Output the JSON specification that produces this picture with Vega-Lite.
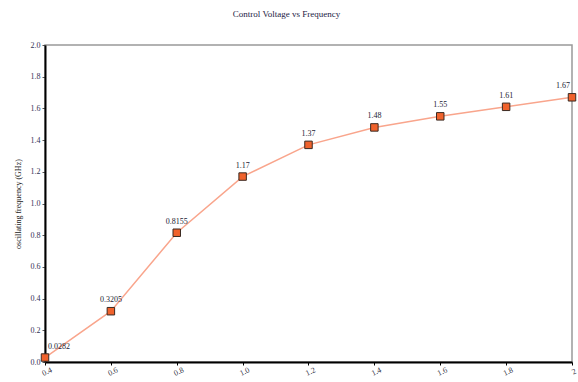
{
  "$schema": "https://vega.github.io/schema/vega-lite/v6.json",
  "autosize": "none",
  "width": 527,
  "height": 317,
  "padding": {"left": 45, "top": 45, "right": 6, "bottom": 20},
  "background": "white",
  "config": {
    "font": "Liberation Serif",
    "view": {"stroke": "#999999", "strokeWidth": 1.5}
  },
  "title": {
    "text": "Control Voltage vs Frequency",
    "fontSize": 9,
    "fontWeight": "normal",
    "color": "#222244",
    "anchor": "middle",
    "offset": 22,
    "dx": -22
  },
  "data": {
    "values": [
      {"v": 0.4, "f": 0.0282, "lab": "0.0282"},
      {"v": 0.6, "f": 0.3205, "lab": "0.3205"},
      {"v": 0.8, "f": 0.8155, "lab": "0.8155"},
      {"v": 1.0, "f": 1.17, "lab": "1.17"},
      {"v": 1.2, "f": 1.37, "lab": "1.37"},
      {"v": 1.4, "f": 1.48, "lab": "1.48"},
      {"v": 1.6, "f": 1.55, "lab": "1.55"},
      {"v": 1.8, "f": 1.61, "lab": "1.61"},
      {"v": 2.0, "f": 1.67, "lab": "1.67"}
    ]
  },
  "encoding": {
    "x": {
      "field": "v", "type": "quantitative",
      "scale": {"domain": [0.4, 2.0], "nice": false, "zero": false},
      "axis": {
        "title": null, "grid": false,
        "values": [0.4, 0.6, 0.8, 1.0, 1.2, 1.4, 1.6, 1.8, 2.0],
        "labelExpr": "datum.value == 2 ? '2' : format(datum.value, '.1f')",
        "labelAngle": -25, "labelFontSize": 8, "labelColor": "#333344",
        "labelAlign": "center", "labelBaseline": "top", "labelPadding": 3,
        "domainColor": "#000000", "domainWidth": 2,
        "tickColor": "#000000", "tickSize": 3
      }
    },
    "y": {
      "field": "f", "type": "quantitative",
      "scale": {"domain": [0, 2], "nice": false},
      "axis": {
        "title": "oscillating frequency (GHz)", "titleFontSize": 8,
        "titleFontWeight": "normal", "titleColor": "#222222", "titlePadding": 8,
        "grid": false, "values": [0, 0.2, 0.4, 0.6, 0.8, 1.0, 1.2, 1.4, 1.6, 1.8, 2.0],
        "format": ".1f", "labelFontSize": 8, "labelColor": "#333355",
        "domainColor": "#000000", "domainWidth": 2,
        "tickColor": "#555555", "tickSize": 3, "labelPadding": 2
      }
    }
  },
  "layer": [
    {"mark": {"type": "line", "color": "#f9a58c", "strokeWidth": 1.5}},
    {"mark": {"type": "point", "shape": "square", "filled": true, "fill": "#f0622c", "stroke": "#3a2a22", "strokeWidth": 1, "size": 56, "opacity": 1}},
    {
      "transform": [{"filter": "datum.v > 0.4 && datum.v < 2"}],
      "mark": {"type": "text", "dy": -11, "fontSize": 8, "color": "#222233"},
      "encoding": {"text": {"field": "lab"}}
    },
    {
      "transform": [{"filter": "datum.v <= 0.4"}],
      "mark": {"type": "text", "dy": -11, "dx": 3, "align": "left", "fontSize": 8, "color": "#222233"},
      "encoding": {"text": {"field": "lab"}}
    },
    {
      "transform": [{"filter": "datum.v >= 2"}],
      "mark": {"type": "text", "dy": -11, "dx": -2, "align": "right", "fontSize": 8, "color": "#222233"},
      "encoding": {"text": {"field": "lab"}}
    }
  ]
}
